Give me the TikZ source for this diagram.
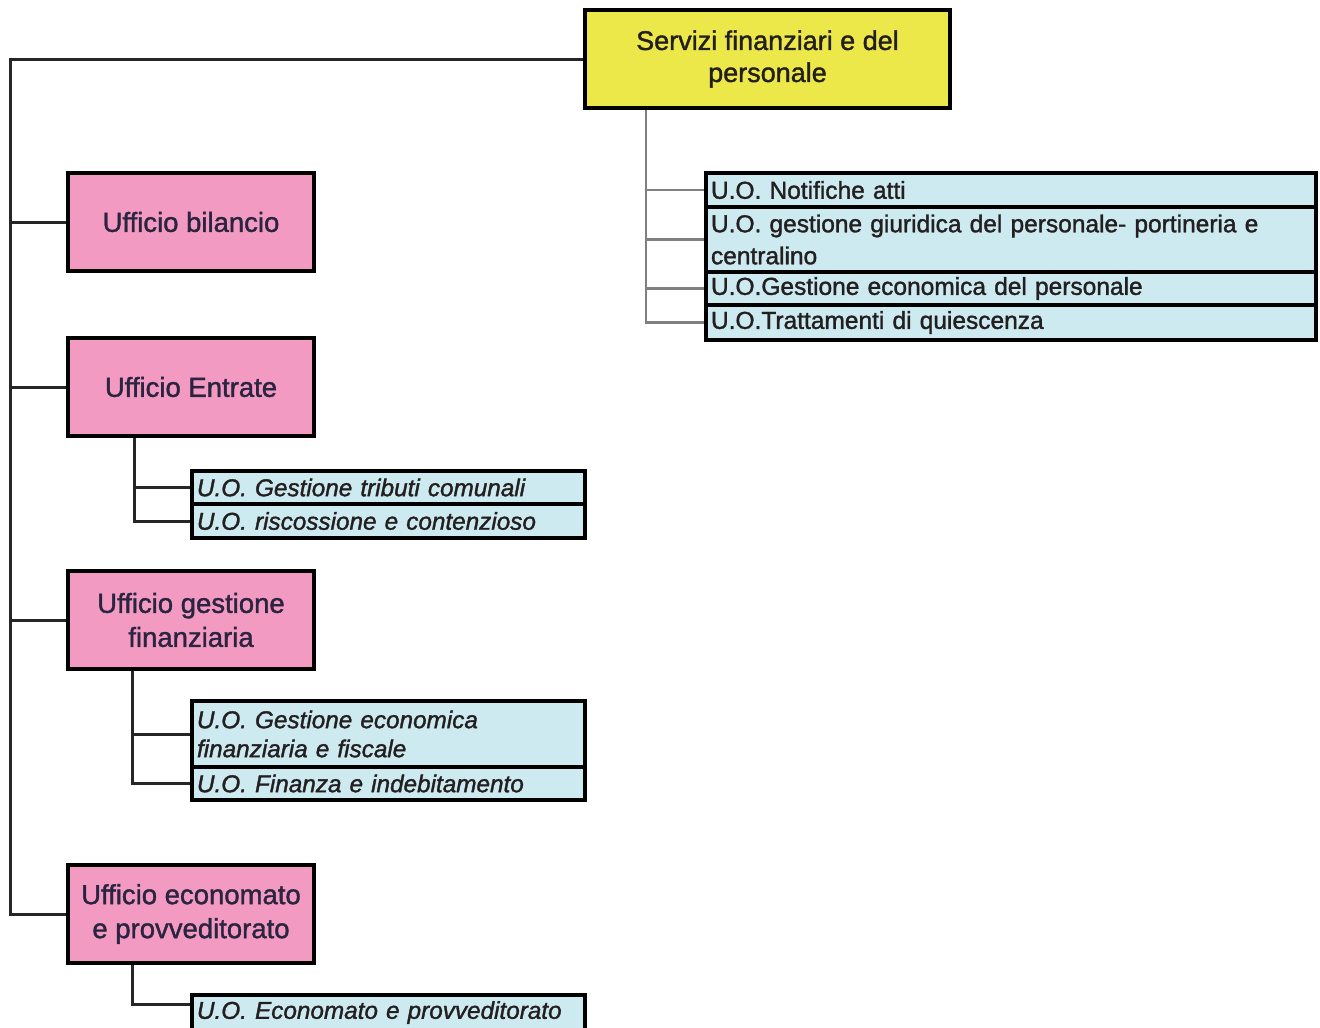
\documentclass[tikz,border=0pt]{standalone}
\usepackage{fontspec}
\setmainfont{Liberation Sans}
\newfontfamily\heavy[FakeBold=1.4]{Liberation Sans}
\usetikzlibrary{backgrounds}
\definecolor{ybox}{HTML}{EDE84A}
\definecolor{pbox}{HTML}{F29AC1}
\definecolor{bbox}{HTML}{CDEAF0}
\definecolor{txt}{HTML}{231F20}
\definecolor{ptxt}{HTML}{2B2440}
\tikzset{
  base/.style={draw=black, line width=3.2pt, anchor=north west, inner sep=0pt, outer sep=0pt, text=txt},
  topbox/.style={base, fill=ybox, minimum width=365pt, minimum height=98pt, align=center, font=\heavy\fontsize{27}{32}\selectfont},
  ufficio/.style={base, fill=pbox, text=ptxt, minimum width=246pt, minimum height=98pt, align=center, font=\heavy\fontsize{27.5}{34}\selectfont},
  uo/.style={base, fill=bbox, inner xsep=5pt, align=left, text width=383pt, minimum height=#1, font=\heavy\fontsize{24.3}{29}\selectfont\itshape},
  uo/.default=34pt,
  uor/.style={base, fill=bbox, inner xsep=5pt, align=left, text width=600pt, minimum height=#1, font=\heavy\fontsize{24.5}{32}\selectfont},
  uor/.default=34pt,
  conn/.style={draw=black!85, line width=3pt},
  connr/.style={draw=black!50, line width=2.6pt},
}
\begin{document}
\begin{tikzpicture}[x=1pt,y=-1pt]
\useasboundingbox (0,0) rectangle (1320,1028);
\node[topbox] (top) at (585,10) {Servizi finanziari e del\\personale};
\node[ufficio] (bil) at (68,173) {Ufficio bilancio};
\node[ufficio] (ent) at (68,338) {Ufficio Entrate};
\node[ufficio] (gf) at (68,571) {Ufficio gestione\\finanziaria};
\node[ufficio] (eco) at (68,865) {Ufficio economato\\e provveditorato};
% right subtree
\node[uor] (r1) at (706,173) {U.O. Notifiche atti};
\node[uor=65pt] (r2) at (706,207) {U.O. gestione giuridica del personale- portineria e\\centralino};
\node[uor=33pt] (r3) at (706,272) {U.O.Gestione economica del personale};
\node[uor=35pt] (r4) at (706,305) {U.O.Trattamenti di quiescenza};
% entrate subtree
\node[uo=33pt] (e1) at (192,471) {U.O. Gestione tributi comunali};
\node[uo=34pt] (e2) at (192,504) {U.O. riscossione e contenzioso};
% gestione finanziaria subtree
\node[uo=66pt] (g1) at (192,701) {U.O. Gestione economica\\finanziaria e fiscale};
\node[uo=33pt] (g2) at (192,767) {U.O. Finanza e indebitamento};
% economato subtree
\node[uo=35pt] (c1) at (192,995) {U.O. Economato e provveditorato};
\coordinate (tx) at (10,0);
\coordinate (ex) at (134,0);
\coordinate (gx) at (132,0);
\coordinate (rx) at (646,0);
\begin{scope}[on background layer]
\draw[conn] (top.west) -- (top.west -| tx) |- (eco.west);
\draw[conn] (bil.west -| tx) -- (bil.west);
\draw[conn] (ent.west -| tx) -- (ent.west);
\draw[conn] (gf.west -| tx) -- (gf.west);
\draw[conn] (ent.south -| ex) |- (e2.west);
\draw[conn] (e1.west -| ex) -- (e1.west);
\draw[conn] (gf.south -| gx) |- (g2.west);
\draw[conn] (g1.west -| gx) -- (g1.west);
\draw[conn] (eco.south -| gx) |- ([yshift=8pt]c1.west);
\draw[connr] (top.south -| rx) |- (r4.west);
\draw[connr] (r1.west -| rx) -- (r1.west);
\draw[connr] (r2.west -| rx) -- (r2.west);
\draw[connr] (r3.west -| rx) -- (r3.west);
\end{scope}
\end{tikzpicture}
\end{document}
